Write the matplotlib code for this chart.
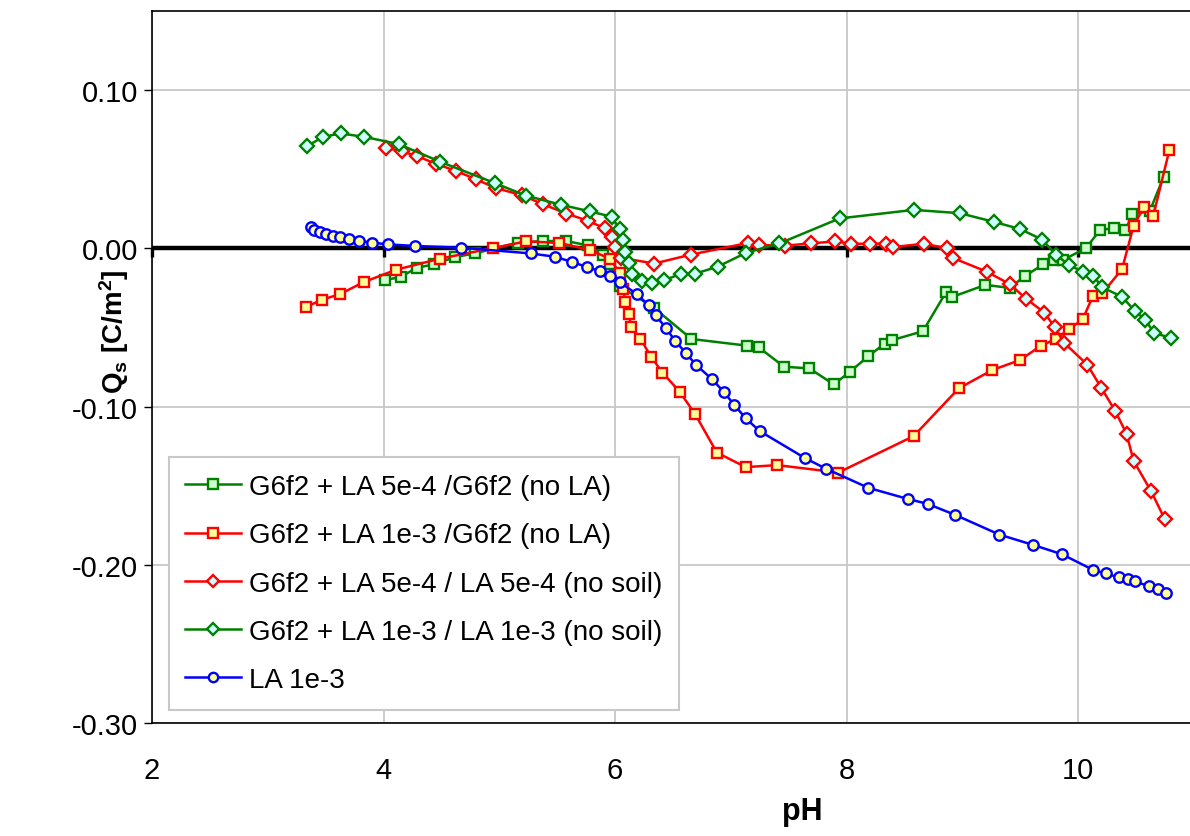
import matplotlib
matplotlib.use("Agg")
import matplotlib.pyplot as plt
from matplotlib.ticker import FixedLocator

plt.rcParams['font.family'] = ['Liberation Sans', 'DejaVu Sans']
plt.rcParams['mathtext.fontset'] = 'custom'
plt.rcParams['mathtext.rm'] = 'Liberation Sans:bold'
plt.rcParams['mathtext.it'] = 'Liberation Sans:bold'
plt.rcParams['mathtext.bf'] = 'Liberation Sans:bold'

# ---------------- data ----------------
labels = ["G6f2 + LA 5e-4 /G6f2 (no LA)",
          "G6f2 + LA 1e-3 /G6f2 (no LA)",
          "G6f2 + LA 5e-4 / LA 5e-4 (no soil)",
          "G6f2 + LA 1e-3 / LA 1e-3 (no soil)",
          "LA 1e-3"]

ph_gs = [4.01, 4.15, 4.29, 4.44, 4.62, 4.79, 5.16, 5.38, 5.58, 5.77, 5.90, 5.96, 6.04, 6.34,
         6.66, 7.14, 7.24, 7.46, 7.68, 7.89, 8.03, 8.19, 8.33, 8.39, 8.66, 8.86, 8.91, 9.20,
         9.41, 9.54, 9.70, 9.79, 9.87, 10.07, 10.19, 10.31, 10.41, 10.47, 10.62, 10.74]
q_gs = [-0.0202, -0.0180, -0.0122, -0.0101, -0.0055, -0.0032, 0.0036, 0.0046, 0.0046, 0.0018,
        -0.0044, -0.0101, -0.0238, -0.0378, -0.0573, -0.0615, -0.0625, -0.0748, -0.0759, -0.0860,
        -0.0780, -0.0681, -0.0602, -0.0581, -0.0524, -0.0277, -0.0308, -0.0231, -0.0250, -0.0176,
        -0.0101, -0.0074, -0.0074, 0.0002, 0.0116, 0.0127, 0.0116, 0.0215, 0.0235, 0.0452]

ph_rs = [3.33, 3.47, 3.62, 3.83, 4.11, 4.49, 4.95, 5.23, 5.52, 5.78, 5.96, 6.04, 6.07, 6.09,
         6.12, 6.14, 6.22, 6.31, 6.41, 6.56, 6.69, 6.88, 7.13, 7.40, 7.93, 8.58, 8.97, 9.26,
         9.50, 9.68, 9.81, 9.92, 10.04, 10.13, 10.21, 10.38, 10.48, 10.57, 10.65, 10.79]
q_rs = [-0.0371, -0.0324, -0.0291, -0.0213, -0.0135, -0.0065, 0.0002, 0.0044, 0.0034, -0.0010,
        -0.0067, -0.0156, -0.0257, -0.0340, -0.0416, -0.0499, -0.0571, -0.0684, -0.0785, -0.0908,
        -0.1045, -0.1291, -0.1383, -0.1370, -0.1417, -0.1187, -0.0885, -0.0769, -0.0706, -0.0615,
        -0.0573, -0.0512, -0.0449, -0.0300, -0.0284, -0.0132, 0.0140, 0.0262, 0.0205, 0.0623]

ph_rd = [4.02, 4.16, 4.29, 4.45, 4.63, 4.80, 4.97, 5.20, 5.38, 5.58, 5.77, 5.91, 5.97, 6.00,
         6.05, 6.34, 6.66, 7.15, 7.24, 7.47, 7.69, 7.90, 8.04, 8.20, 8.34, 8.40, 8.67, 8.87,
         8.92, 9.21, 9.41, 9.55, 9.71, 9.80, 9.88, 10.08, 10.20, 10.32, 10.42, 10.48, 10.63, 10.75]
q_rd = [0.0636, 0.0613, 0.0583, 0.0535, 0.0488, 0.0436, 0.0381, 0.0335, 0.0278, 0.0220, 0.0173,
        0.0127, 0.0073, 0.0006, -0.0060, -0.0096, -0.0039, 0.0034, 0.0021, 0.0017, 0.0031, 0.0044,
        0.0029, 0.0029, 0.0029, 0.0008, 0.0029, 0.0000, -0.0061, -0.0147, -0.0226, -0.0318,
        -0.0406, -0.0500, -0.0597, -0.0735, -0.0880, -0.1026, -0.1173, -0.1343, -0.1533, -0.1712]

ph_gd = [3.34, 3.48, 3.63, 3.83, 4.13, 4.49, 4.96, 5.23, 5.53, 5.78, 5.97, 6.04, 6.07, 6.09,
         6.12, 6.15, 6.23, 6.32, 6.42, 6.57, 6.69, 6.89, 7.13, 7.42, 7.94, 8.58, 8.98, 9.27,
         9.50, 9.69, 9.81, 9.92, 10.04, 10.13, 10.21, 10.38, 10.49, 10.58, 10.66, 10.80]
q_gd = [0.0646, 0.0705, 0.0726, 0.0705, 0.0659, 0.0547, 0.0413, 0.0333, 0.0276, 0.0234, 0.0200,
        0.0122, 0.0055, -0.0021, -0.0094, -0.0161, -0.0208, -0.0218, -0.0203, -0.0161, -0.0161,
        -0.0115, -0.0029, 0.0031, 0.0189, 0.0243, 0.0222, 0.0168, 0.0122, 0.0055, -0.0040,
        -0.0105, -0.0147, -0.0172, -0.0247, -0.0306, -0.0394, -0.0451, -0.0537, -0.0564]

ph_la = [3.37, 3.40, 3.45, 3.50, 3.56, 3.62, 3.70, 3.79, 3.90, 4.04, 4.27, 4.67, 5.27, 5.48,
         5.63, 5.76, 5.87, 5.96, 6.04, 6.19, 6.29, 6.35, 6.44, 6.52, 6.61, 6.70, 6.84, 6.94,
         7.03, 7.13, 7.25, 7.64, 7.82, 8.19, 8.53, 8.70, 8.94, 9.32, 9.61, 9.86, 10.13, 10.24,
         10.35, 10.43, 10.49, 10.61, 10.69, 10.76]
q_la = [0.0137, 0.0116, 0.0103, 0.0088, 0.0080, 0.0069, 0.0061, 0.0048, 0.0036, 0.0025, 0.0015,
        0.0004, -0.0032, -0.0053, -0.0086, -0.0119, -0.0144, -0.0177, -0.0212, -0.0291, -0.0358,
        -0.0423, -0.0503, -0.0586, -0.0659, -0.0737, -0.0828, -0.0908, -0.0989, -0.1075, -0.1155,
        -0.1325, -0.1392, -0.1514, -0.1584, -0.1615, -0.1685, -0.1809, -0.1874, -0.1933, -0.2032,
        -0.2055, -0.2080, -0.2093, -0.2104, -0.2135, -0.2156, -0.2177]

x_ticks = [2, 4, 6, 8, 10]
x_ticklabels = ["2", "4", "6", "8", "10"]
y_ticks = [-0.30, -0.20, -0.10, 0.00, 0.10]
y_ticklabels = ["-0.30", "-0.20", "-0.10", "0.00", "0.10"]

# ---------------- figure ----------------
W, H = 1190, 837
fig = plt.figure(figsize=(W / 100, H / 100), dpi=100)
ax = fig.add_axes([152 / W, (H - 724) / H, (W - 152) / W, (724 - 12) / H])

ax.set_xlim(2, 2 + (W - 152) / 115.75)
ax.set_ylim(-0.30, 0.15)

GREEN = '#008000'
RED = '#ff0000'
BLUE = '#0000ff'

series = [
    (ph_gs, q_gs, GREEN, 's', '#ccffcc', 7.8),
    (ph_rs, q_rs, RED, 's', '#ffff99', 7.8),
    (ph_rd, q_rd, RED, 'D', '#ccffff', 7.0),
    (ph_gd, q_gd, GREEN, 'D', '#ccffff', 7.0),
    (ph_la, q_la, BLUE, 'o', '#ffff99', 7.5),
]
handles = []
for (x, y, c, m, fc, ms), lab in zip(series, labels):
    h, = ax.plot(x, y, color=c, lw=1.8, marker=m, ms=ms, mfc=fc, mec=c, mew=1.7,
                 label=lab, zorder=3)
    handles.append(h)

# grid
ax.xaxis.set_major_locator(FixedLocator(x_ticks))
ax.yaxis.set_major_locator(FixedLocator(y_ticks))
ax.set_xticklabels(x_ticklabels)
ax.set_yticklabels(y_ticklabels)
ax.grid(True, color='#c8c8c8', lw=1.3, zorder=0)
ax.set_axisbelow(True)

# zero axis line with its tick marks
ax.axhline(0, color='black', lw=3.2, zorder=2)
ax.plot(x_ticks, [0] * len(x_ticks), ls='none', marker=3, ms=6.5, mew=2.4,
        color='black', zorder=2, clip_on=False)

for s in ['left', 'top', 'bottom']:
    ax.spines[s].set_color('black')
    ax.spines[s].set_linewidth(1.2)
ax.spines['right'].set_visible(False)

ax.tick_params(axis='y', direction='out', length=6, width=1, pad=4, labelsize=21)
ax.tick_params(axis='x', length=0, pad=24, labelsize=21)

ax.set_xlabel('pH', fontsize=22, fontweight='bold')
ax.xaxis.set_label_coords((802 - 152) / (W - 152), -0.102)
fig.text(114 / W, 1 - 332 / H, r'Q$_\mathrm{s}$ [C/m$^\mathrm{2}$]', rotation=90,
         ha='center', va='center', fontsize=20, fontweight='bold')

leg = ax.legend(handles=handles, loc='lower left',
                bbox_to_anchor=((168.6 - 152) / (W - 152), (724 - 710.7) / 712),
                borderaxespad=0, fontsize=20, frameon=True, fancybox=False,
                framealpha=1, edgecolor='#c8c8c8', labelspacing=0.8, handlelength=2.0,
                handletextpad=0.3, borderpad=0.6, markerscale=0.9)
leg.get_frame().set_linewidth(1.5)
leg.set_zorder(5)

fig.savefig('out.png', dpi=100)
